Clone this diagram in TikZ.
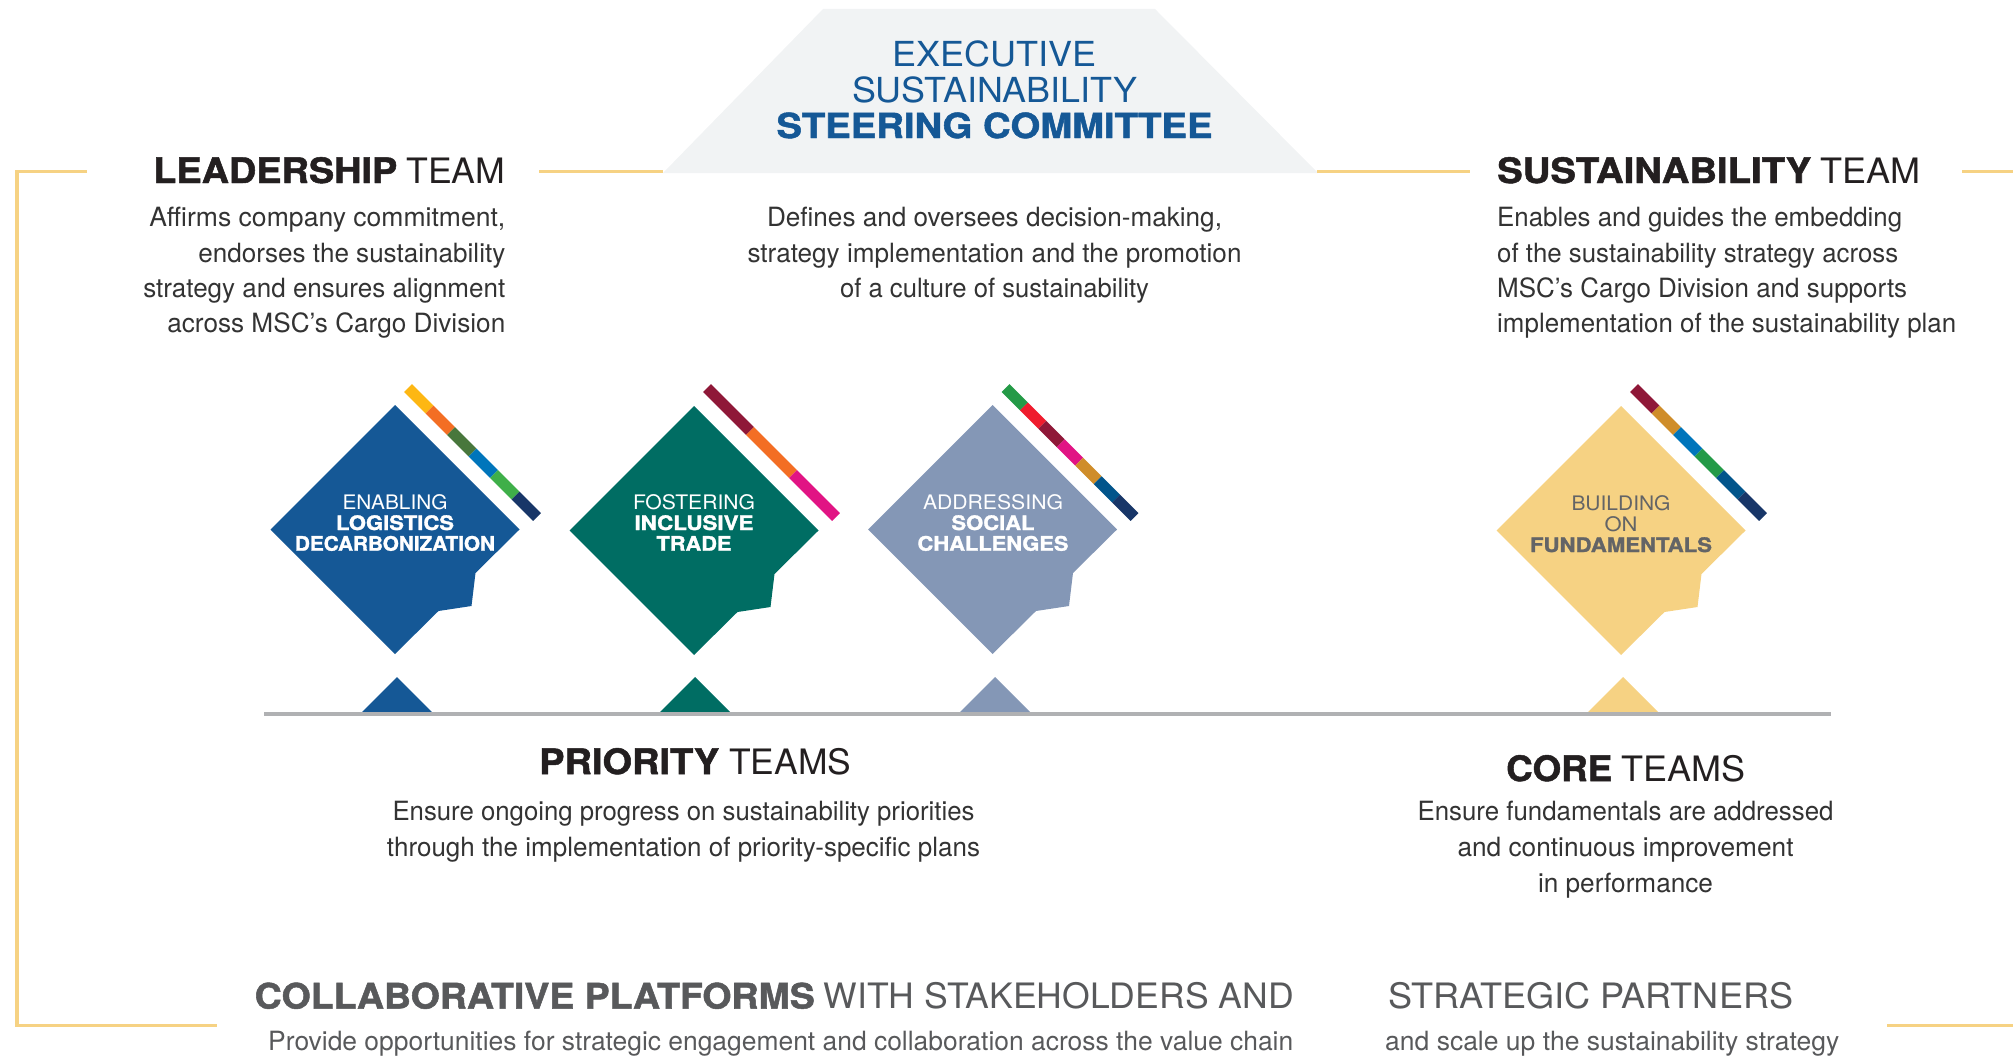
\documentclass[tikz,border=0pt]{standalone}
\usepackage{graphicx}
\usepackage{fontspec}
\setmainfont{TeX Gyre Heros}[BoldFeatures={FakeBold=1.4}]
\definecolor{cblue}{HTML}{155896}
\definecolor{cgreen}{HTML}{006D63}
\definecolor{cslate}{HTML}{8497B6}
\definecolor{csand}{HTML}{F6D283}
\definecolor{cpale}{HTML}{F1F3F4}
\definecolor{crule}{HTML}{B0B1B3}
\definecolor{cink}{HTML}{231F20}
\definecolor{cbody}{HTML}{333333}
\definecolor{cgrey}{HTML}{58595B}
\definecolor{cdgrey}{HTML}{636466}
\definecolor{syellow}{HTML}{FDB713}
\definecolor{sorange}{HTML}{F36E24}
\definecolor{solive}{HTML}{48773C}
\definecolor{sblue}{HTML}{0075BB}
\definecolor{sgreen}{HTML}{3FAF49}
\definecolor{snavy}{HTML}{183668}
\definecolor{smaroon}{HTML}{8F1838}
\definecolor{smagenta}{HTML}{E11484}
\definecolor{sdgreen}{HTML}{249A47}
\definecolor{sred}{HTML}{EF1C2D}
\definecolor{sochre}{HTML}{CF8D2A}
\definecolor{sdblue}{HTML}{02558B}
\newcommand\wt[2]{\resizebox{#1pt}{\height}{#2}}
\newcommand\headpair[5]{\wt{#1}{\bfseries #2}\hspace{#3pt}\wt{#4}{#5}}
\newcommand\kite[3]{%
  \fill[#3] (#1,#2) -- ++(124.5,124.5) -- ++(-44,43.5) -- ++(-4,33) -- ++(-33,5) -- (#1,#2+249) -- ++(-124.5,-124.5) -- cycle;}
\newcommand\peak[2]{\fill[#2] (#1,677) -- (#1+35.5,712.5) -- (#1-35.5,712.5) -- cycle;}
\newcommand\stripe[4]{%
  \foreach \c [count=\i from 0] in {#4} {
    \pgfmathsetmacro\ta{\i*129/#3}
    \pgfmathsetmacro\tb{(\i+1)*129/#3}
    \draw[stripeline,\c] (#1+13+\ta,#2-17+\ta) -- (#1+13+\tb,#2-17+\tb);
  }}
\tikzset{
  x=1pt,y=-1pt,
  stripeline/.style={line width=11pt,line cap=butt},
  bracket/.style={csand,line width=3.3pt},
  head/.style={inner sep=0pt,cink,font=\fontsize{35}{36}\selectfont},
  title/.style={inner sep=0pt,cblue,font=\fontsize{34.5}{35.8}\selectfont,align=center},
  body/.style={inner sep=0pt,cbody,font=\fontsize{26.5}{35.6}\selectfont},
  kitetext/.style={inner sep=0pt,white,font=\fontsize{20}{20.9}\selectfont,align=center},
  foot/.style={inner sep=0pt,cgrey,font=\fontsize{35}{36}\selectfont},
  footbody/.style={inner sep=0pt,cgrey,font=\fontsize{26.5}{30}\selectfont},
}
\begin{document}
\begin{tikzpicture}
\useasboundingbox (0,0) rectangle (2013,1057);
% steering committee panel
\fill[cpale] (823,9) -- (1155,9) -- (1318,173) -- (663,173) -- cycle;
% frame
\draw[bracket] (87,171.5) -- (17,171.5) -- (17,1025.5) -- (217,1025.5);
\draw[bracket] (539,171.5) -- (663,171.5);
\draw[bracket] (1316.5,171.5) -- (1470,171.5);
\draw[bracket] (1962,171.5) -- (2013,171.5);
\draw[bracket] (1887,1025.5) -- (2013,1025.5);
% title
\node[title,anchor=base] (exec) at (994.5,66.8) {\wt{204}{EXECUTIVE}};
\node[title,anchor=base] (sust) at (994.5,102.5) {\wt{285}{SUSTAINABILITY}};
\node[title,anchor=base] (steer) at (994.5,138) {\wt{436}{\bfseries STEERING COMMITTEE}};
% leadership
\node[head,anchor=base east] (lead) at (505.5,183) {\headpair{244}{LEADERSHIP}{9}{99}{TEAM}};
\node[body,anchor=base east] (lead1) at (505.5,226.5) {\wt{356}{Affirms company commitment,}};
\node[body,anchor=base east] (lead2) at (505.5,262) {\wt{307}{endorses the sustainability}};
\node[body,anchor=base east] (lead3) at (505.5,297.3) {\wt{362}{strategy and ensures alignment}};
\node[body,anchor=base east] (lead4) at (505.5,332.8) {\wt{338}{across MSC’s Cargo Division}};
% committee text
\node[body,anchor=base] (com1) at (994.5,226.5) {\wt{455}{Defines and oversees decision-making,}};
\node[body,anchor=base] (com2) at (994.5,262) {\wt{494}{strategy implementation and the promotion}};
\node[body,anchor=base] (com3) at (994.5,297.3) {\wt{309}{of a culture of sustainability}};
% sustainability team
\node[head,anchor=base west] (st) at (1497,183) {\headpair{314}{SUSTAINABILITY}{9}{100}{TEAM}};
\node[body,anchor=base west] (st1) at (1497,226.5) {\wt{405}{Enables and guides the embedding}};
\node[body,anchor=base west] (st2) at (1497,262) {\wt{401}{of the sustainability strategy across}};
\node[body,anchor=base west] (st3) at (1497,297.3) {\wt{410}{MSC’s Cargo Division and supports}};
\node[body,anchor=base west] (st4) at (1497,332.8) {\wt{459}{implementation of the sustainability plan}};
% kites
\kite{395}{405}{cblue}
\kite{694}{406}{cgreen}
\kite{992.5}{405}{cslate}
\kite{1621}{406}{csand}
\stripe{395}{405}{6}{syellow,sorange,solive,sblue,sgreen,snavy}
\stripe{694}{405}{3}{smaroon,sorange,smagenta}
\stripe{992.5}{405}{7}{sdgreen,sred,smaroon,smagenta,sochre,sdblue,snavy}
\stripe{1621}{405}{6}{smaroon,sochre,sblue,sdgreen,sdblue,snavy}
% kite labels
\node[kitetext,anchor=base] (k1a) at (395,509) {\wt{105}{ENABLING}};
\node[kitetext,anchor=base] (k1b) at (395,530) {\wt{118}{\bfseries LOGISTICS}};
\node[kitetext,anchor=base] (k1c) at (395,550.7) {\wt{200}{\bfseries DECARBONIZATION}};
\node[kitetext,anchor=base] (k2a) at (694,509) {\wt{122}{FOSTERING}};
\node[kitetext,anchor=base] (k2b) at (694,530) {\wt{119}{\bfseries INCLUSIVE}};
\node[kitetext,anchor=base] (k2c) at (694,550.7) {\wt{75}{\bfseries TRADE}};
\node[kitetext,anchor=base] (k3a) at (993,509) {\wt{140}{ADDRESSING}};
\node[kitetext,anchor=base] (k3b) at (993,530) {\wt{83}{\bfseries SOCIAL}};
\node[kitetext,anchor=base] (k3c) at (993,550.7) {\wt{151}{\bfseries CHALLENGES}};
\node[kitetext,cdgrey,anchor=base] (k4a) at (1621,510) {\wt{99}{BUILDING}};
\node[kitetext,cdgrey,anchor=base] (k4b) at (1621,531) {\wt{33}{ON}};
\node[kitetext,cdgrey,anchor=base] (k4c) at (1621,552) {\wt{182}{\bfseries FUNDAMENTALS}};
% peaks and rule
\peak{397}{cblue}
\peak{695}{cgreen}
\peak{995}{cslate}
\peak{1623}{csand}
\draw[crule,line width=3.2pt] (264,714) -- (1831,714);
% priority teams
\node[head,anchor=base west] (pri) at (539,774) {\headpair{180}{PRIORITY}{10}{122}{TEAMS}};
\node[body,anchor=base] (pri1) at (683.5,820.3) {\wt{582}{Ensure ongoing progress on sustainability priorities}};
\node[body,anchor=base] (pri2) at (683.5,856) {\wt{593}{through the implementation of priority-specific plans}};
% core teams
\node[head,anchor=base west] (core) at (1506,781) {\headpair{106}{CORE}{9}{124}{TEAMS}};
\node[body,anchor=base] (core1) at (1625.5,820.3) {\wt{416}{Ensure fundamentals are addressed}};
\node[body,anchor=base] (core2) at (1625.5,856) {\wt{336}{and continuous improvement}};
\node[body,anchor=base] (core3) at (1625.5,892) {\wt{175}{in performance}};
% collaborative platforms
\node[foot,anchor=base west] (col) at (254.5,1008.5) {\headpair{560}{COLLABORATIVE PLATFORMS}{9}{470}{WITH STAKEHOLDERS AND}};
\node[foot,anchor=base west] (strat) at (1388,1008.5) {\wt{405}{STRATEGIC PARTNERS}};
\node[footbody,anchor=base west] (col1) at (268,1050.5) {\wt{1025}{Provide opportunities for strategic engagement and collaboration across the value chain}};
\node[footbody,anchor=base west] (col2) at (1385,1050.5) {\wt{454}{and scale up the sustainability strategy}};
\end{tikzpicture}
\end{document}
